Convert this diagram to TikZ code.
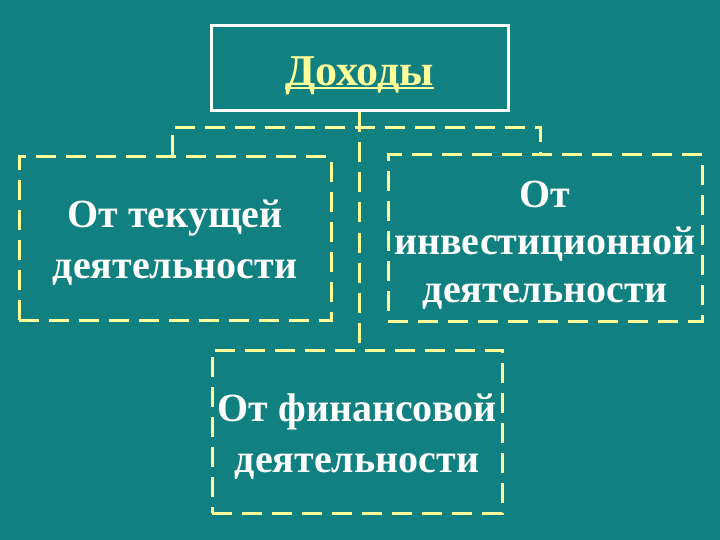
\documentclass[tikz,border=0pt]{standalone}
\usepackage{fontspec}
\setmainfont{Liberation Serif}
\definecolor{bg}{RGB}{16,128,128}
\definecolor{dashy}{RGB}{255,255,153}
\newsavebox{\ulbox}
\newcommand{\thickul}[1]{\sbox{\ulbox}{#1}\leavevmode\rlap{\rule[-4pt]{\wd\ulbox}{2.5pt}}\usebox{\ulbox}}
\begin{document}
\begin{tikzpicture}[x=1pt,y=-1pt,
  box/.style={draw=dashy, line width=3pt, dash pattern=on 20pt off 10pt, rectangle, inner sep=0pt},
  txt/.style={inner sep=0pt, align=center, text=white, font=\bfseries\fontsize{40}{51}\selectfont},
  link/.style={draw=dashy, line width=3pt, dash pattern=on 20pt off 10pt}]
\fill[bg] (0,0) rectangle (720,540);
\useasboundingbox (0,0) rectangle (720,540);
\node[draw=white, line width=3pt, minimum width=297pt, minimum height=85pt, inner sep=0pt] (top) at (359.5,68.5) {};
\node[inner sep=0pt, text=dashy, font=\bfseries\fontsize{44}{50}\selectfont] (toptxt) at ([yshift=-7pt]top.center) {\thickul{Доходы}};
\node[box, minimum width=312pt, minimum height=163pt] (cur) at (175,238.5) {};
\node[txt] (curtxt) at ([yshift=-4pt]cur.center) {От текущей\\деятельности};
\node[box, minimum width=314pt, minimum height=166pt] (inv) at (545,238) {};
\node[txt, font=\bfseries\fontsize{40}{47.5}\selectfont] (invtxt) at ([yshift=-7pt]inv.center) {От\\инвестиционной\\деятельности};
\node[box, minimum width=290pt, minimum height=163pt] (fin) at (357,431.5) {};
\node[txt] (fintxt) at ([yshift=-5pt]fin.center) {От финансовой\\деятельности};
\coordinate (hl) at (172,128);
\coordinate (hr) at (540,128);
\draw[link] (top.south) -- (top.south |- fin.north);
\draw[link] (hl |- cur.north) -- (hl) -- (hr) -- (hr |- inv.north);
\end{tikzpicture}
\end{document}
